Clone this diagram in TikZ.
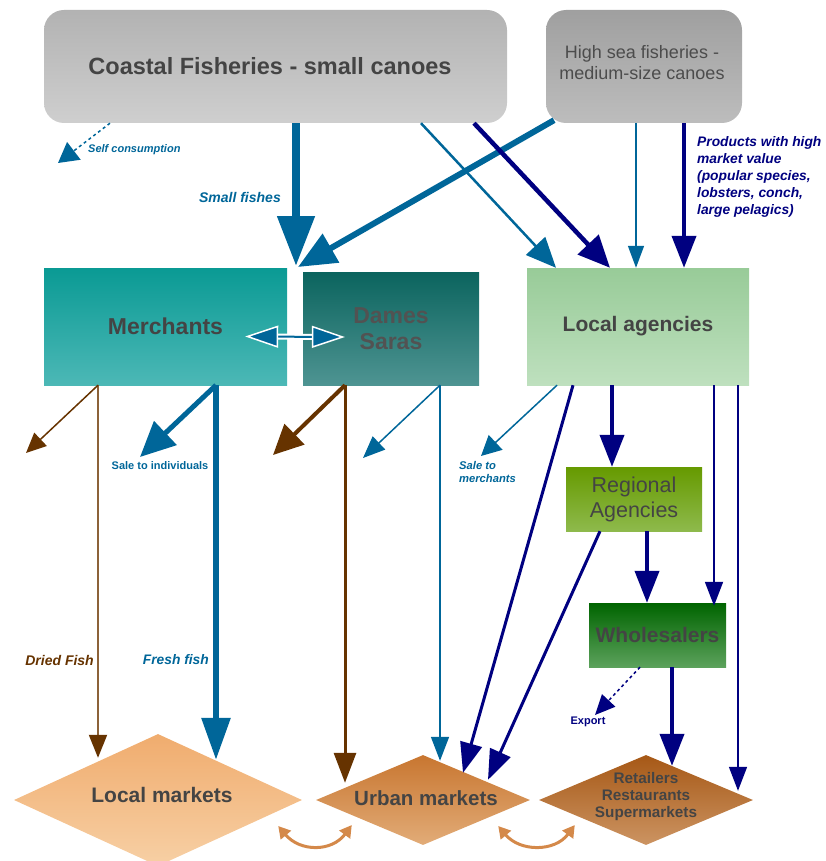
\documentclass[tikz,border=0pt]{standalone}
\usepackage{fontspec}
\setmainfont{Liberation Sans}
\usetikzlibrary{arrows.meta,shapes.geometric,calc}
\definecolor{fblue}{HTML}{006699}
\definecolor{fnavy}{HTML}{000080}
\definecolor{fbrown}{HTML}{663300}
\definecolor{lbrown}{HTML}{8C6239}
\definecolor{forange}{HTML}{D4894A}
\definecolor{txt}{HTML}{444444}
\tikzset{
  box/.style={rectangle, inner sep=0pt, text=txt, font=\bfseries, align=center},
  mkt/.style={diamond, inner sep=0pt, text=txt, font=\bfseries, align=center},
  lab/.style={inner sep=0pt, font=\bfseries\itshape},
  hd/.style 2 args={-{Triangle[length=#1,width=#2]}},
}
\begin{document}
\begin{tikzpicture}[x=1pt,y=-1pt]
\useasboundingbox (0,0) rectangle (826,861);
\clip (0,0) rectangle (826,861);
% nodes
\node[box, rounded corners=20pt, minimum width=463pt, minimum height=113pt, top color=gray!60!white, bottom color=gray!38!white] (coastal) at (275.5,66.5) {};
\node[font=\bfseries\fontsize{23.5}{28}\selectfont, text=txt] (tcoastal) at (270,66.5) {Coastal Fisheries - small canoes};
\node[box, rounded corners=20pt, minimum width=196pt, minimum height=113pt, top color=gray!75!white, bottom color=gray!52!white] (highsea) at (644,66.5) {};
\node[font=\fontsize{18}{21}\selectfont, text=black!70, align=center] (thighsea) at (642,63) {High sea fisheries -\\medium-size canoes};
\node[box, minimum width=243pt, minimum height=117pt, top color={rgb,255:red,10;green,154;blue,148}, bottom color={rgb,255:red,76;green,184;blue,182}, font=\bfseries\fontsize{23}{27}\selectfont] (merch) at (165.5,326.5) {Merchants};
\node[box, minimum width=176pt, minimum height=113pt, top color={rgb,255:red,11;green,100;blue,94}, bottom color={rgb,255:red,78;green,148;blue,146}, text=black!68, font=\bfseries\fontsize{23}{26}\selectfont] (dames) at (391,328.5) {Dames\\Saras};
\node[box, minimum width=222pt, minimum height=117pt, top color={rgb,255:red,152;green,203;blue,152}, bottom color={rgb,255:red,190;green,224;blue,190}, font=\bfseries\fontsize{21}{25}\selectfont] (local) at (638,326.5) {Local agencies};
\node[box, minimum width=136pt, minimum height=64pt, top color={rgb,255:red,102;green,154;blue,0}, bottom color={rgb,255:red,142;green,186;blue,76}, font=\fontsize{21.5}{25}\selectfont] (regional) at (634,499) {Regional\\Agencies};
\node[box, minimum width=137pt, minimum height=64pt, top color={rgb,255:red,0;green,100;blue,0}, bottom color={rgb,255:red,92;green,162;blue,92}, font=\bfseries\fontsize{21}{25}\selectfont] (whole) at (657.5,635) {Wholesalers};
\node[mkt, minimum width=288pt, minimum height=132pt, top color={rgb,255:red,240;green,172;blue,110}, bottom color={rgb,255:red,247;green,208;blue,165}] (lmkt) at (158,800) {};
\node[font=\bfseries\fontsize{21}{25}\selectfont, text=txt] (tlmkt) at (162,795) {Local markets};
\node[mkt, minimum width=214pt, minimum height=90pt, top color={rgb,255:red,200;green,118;blue,48}, bottom color={rgb,255:red,226;green,172;blue,120}] (umkt) at (423,800) {};
\node[font=\bfseries\fontsize{20.5}{24}\selectfont, text=txt] (tumkt) at (426,798) {Urban markets};
\node[mkt, minimum width=214pt, minimum height=90pt, top color={rgb,255:red,166;green,88;blue,22}, bottom color={rgb,255:red,204;green,148;blue,98}] (rmkt) at (646,800) {};
\node[font=\bfseries\fontsize{15.3}{17}\selectfont, text=txt, align=center] (trmkt) at (646,797) {Retailers\\Restaurants\\Supermarkets};
% free ends
\coordinate (selfc) at (58,163);
\coordinate (junc) at (296,266);
\coordinate (drf) at (26,453);
\coordinate (sti) at (140,457);
\coordinate (dbr) at (273,455);
\coordinate (dbl) at (363,458);
\coordinate (stm) at (481,456);
\coordinate (expo) at (595,715);
% arrows from top
\draw[fblue, line width=1.5pt, dash pattern=on 3pt off 3pt, hd={20pt}{22pt}] ([xshift=-165.5pt]coastal.south) -- (selfc);
\draw[fblue, line width=8pt, hd={50pt}{36pt}] ([xshift=20.5pt]coastal.south) -- (junc);
\draw[fblue, line width=6pt, hd={38pt}{32pt}] ([xshift=-90pt,yshift=3pt]highsea.south) -- ([xshift=2pt,yshift=-1pt]junc);
\draw[fblue, line width=2.5pt, hd={30pt}{26pt}] ([xshift=145.5pt]coastal.south) -- ([xshift=-82pt]local.north);
\draw[fnavy, line width=4.5pt, hd={32pt}{28pt}] ([xshift=198.5pt]coastal.south) -- ([xshift=-28pt]local.north);
\draw[fblue, line width=1.5pt, hd={22pt}{16pt}] ([xshift=-8pt]highsea.south) -- ([xshift=-2pt]local.north);
\draw[fnavy, line width=4pt, hd={32pt}{24pt}] ([xshift=40pt]highsea.south) -- ([xshift=46pt]local.north);
% merchants <-> dames
\draw[white, line width=6pt] ($(merch.east)+(-20,10)$) -- ($(dames.west)+(20,8.5)$);
\draw[fblue, line width=2pt, {Triangle[length=33pt,width=22pt,fill=fblue,color=white,line width=1.5pt]}-{Triangle[length=33pt,width=22pt,fill=fblue,color=white,line width=1.5pt]}] ($(merch.east)+(-42,10)$) -- ($(dames.west)+(42,8.5)$);
% merchants
\draw[lbrown, line width=2pt, -{Triangle[length=23pt,width=18pt,fill=fbrown,color=fbrown]}] ([xshift=-67.5pt]merch.south) -- ($(lmkt.north)+(-60,24)$);
\draw[fbrown, line width=1.5pt, hd={20pt}{18pt}] ([xshift=-67.5pt]merch.south) -- (drf);
\draw[fblue, line width=6pt, hd={42pt}{28pt}] ([xshift=50.5pt]merch.south) -- ($(lmkt.north)+(58,26)$);
\draw[fblue, line width=5pt, hd={35pt}{32pt}] ([xshift=50.5pt]merch.south) -- (sti);
% dames
\draw[fbrown, line width=3pt, hd={30pt}{22pt}] ([xshift=-46pt]dames.south) -- ($(umkt.north)+(-78,28)$);
\draw[fbrown, line width=4pt, hd={30pt}{28pt}] ([xshift=-46pt]dames.south) -- (dbr);
\draw[fblue, line width=1.5pt, hd={24pt}{18pt}] ([xshift=49pt]dames.south) -- ($(umkt.north)+(17,6)$);
\draw[fblue, line width=1.5pt, hd={22pt}{18pt}] ([xshift=49pt]dames.south) -- (dbl);
% local agencies
\draw[fblue, line width=1.5pt, hd={20pt}{20pt}] ([xshift=-81pt]local.south) -- (stm);
\draw[fnavy, line width=3pt, hd={30pt}{22pt}] ([xshift=-65pt]local.south) -- ($(umkt.north)+(40,18)$);
\draw[fnavy, line width=3pt, hd={30pt}{22pt}] ([xshift=-34pt]regional.south) -- ($(umkt.north)+(65,25)$);
\draw[fnavy, line width=4pt, hd={32pt}{24pt}] ([xshift=-26pt]local.south) -- ([xshift=-22pt]regional.north);
\draw[fnavy, line width=4pt, hd={32pt}{24pt}] ([xshift=13pt]regional.south) -- ([xshift=-10.5pt]whole.north);
\draw[fnavy, line width=1.8pt, hd={24pt}{18pt}] ([xshift=76pt]local.south) -- ([xshift=56.5pt,yshift=-3pt]whole.north);
\draw[fnavy, line width=1.5pt, hd={24pt}{18pt}] ([xshift=100pt]local.south) -- ($(rmkt.north)+(92,36)$);
\draw[fnavy, line width=4pt, hd={32pt}{24pt}] ([xshift=14.5pt]whole.south) -- ($(rmkt.north)+(26,11)$);
\draw[fnavy, line width=1.5pt, dash pattern=on 3pt off 3pt, hd={20pt}{18pt}] ([xshift=-17.5pt]whole.south) -- (expo);
% market exchanges
\draw[forange, line width=3pt, {Triangle[length=12pt,width=13pt]}-{Triangle[length=12pt,width=13pt]}] ($(lmkt.east)+(-24,26)$) .. controls ($(lmkt.east)+(-2,52)$) and ($(umkt.west)+(16,52)$) .. ($(umkt.west)+(36,25)$);
\draw[forange, line width=3pt, {Triangle[length=12pt,width=13pt]}-{Triangle[length=12pt,width=13pt]}] ($(umkt.east)+(-32,26)$) .. controls ($(umkt.east)+(-10,52)$) and ($(rmkt.west)+(16,52)$) .. ($(rmkt.west)+(36,25)$);
% labels
\node[lab, fblue, anchor=west, font=\bfseries\itshape\fontsize{11}{13}\selectfont] (lself) at (88,150) {Self consumption};
\node[lab, fblue, anchor=east, font=\bfseries\itshape\fontsize{14}{17}\selectfont] (lsmall) at (281,197) {Small fishes};
\node[lab, fnavy, anchor=north west, align=left, font=\bfseries\itshape\fontsize{13.8}{17}\selectfont] (lprod) at (697,136) {Products with high\\market value\\(popular species,\\lobsters, conch,\\large pelagics)};
\node[lab, fblue, font=\bfseries\fontsize{11}{13}\selectfont] (lsti) at (160,466) {Sale to individuals};
\node[lab, fbrown, anchor=east, font=\bfseries\itshape\fontsize{14}{17}\selectfont] (ldried) at (94,660) {Dried Fish};
\node[lab, fblue, anchor=east, font=\bfseries\itshape\fontsize{13.8}{17}\selectfont] (lfresh) at (209,660) {Fresh fish};
\node[lab, fblue, anchor=north west, align=left, font=\bfseries\itshape\fontsize{11.2}{13}\selectfont] (lstm) at (459,461) {Sale to\\merchants};
\node[lab, fnavy, font=\bfseries\fontsize{11}{13}\selectfont] (lexp) at (588,722) {Export};
\end{tikzpicture}
\end{document}
